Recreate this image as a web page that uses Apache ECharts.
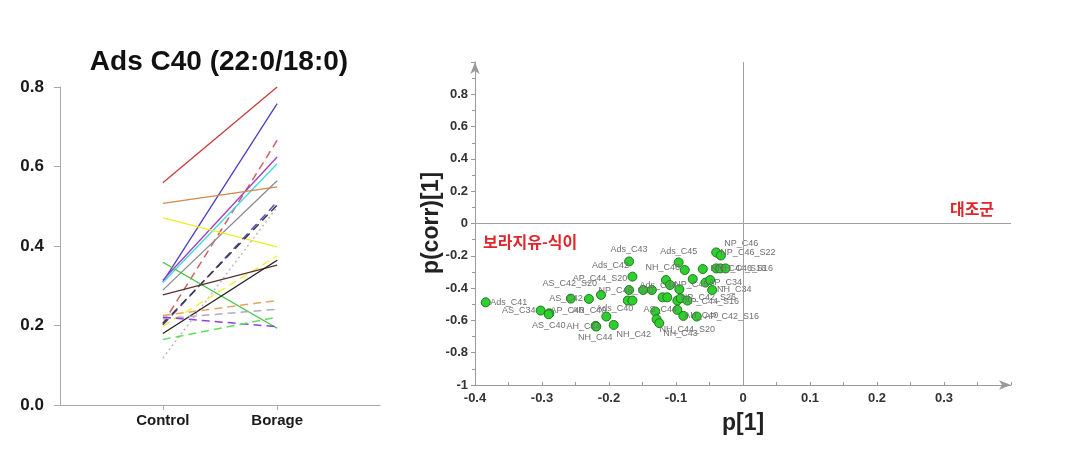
<!DOCTYPE html>
<html>
<head>
<meta charset="utf-8">
<script src="https://cdn.jsdelivr.net/npm/echarts@6/dist/echarts.min.js"></script>
<style>
html,body{margin:0;padding:0;background:#fff;}
#c{width:1069px;height:464px;}
</style>
</head>
<body>
<div id="c"></div>
<script>
// ---------- Left panel data ----------
const groups = ['Control', 'Borage'];
const controlVals = [0.559, 0.310, 0.205, 0.314, 0.308, 0.289, 0.507, 0.471, 0.201, 0.205, 0.118, 0.359, 0.198, 0.277, 0.180, 0.225, 0.217, 0.221, 0.165];
const borageVals  = [0.800, 0.758, 0.666, 0.624, 0.607, 0.564, 0.549, 0.398, 0.511, 0.503, 0.498, 0.193, 0.375, 0.352, 0.364, 0.263, 0.241, 0.197, 0.221];
const lineColors = ['#c83c3c', '#4a3fc4', '#d06262', '#a23ad0', '#3fdcdc', '#8a8a8a', '#d08a4a', '#eeee22', '#5a50c8', '#3a3a3a', '#c8b4c0', '#3fc43f', '#f2f040', '#5a3232', '#1e1e1e', '#e8a45c', '#b4a8c8', '#8a44e0', '#5ee05e'];
const lineTypes  = ['solid', 'solid', 'dashed', 'solid', 'solid', 'solid', 'solid', 'solid', 'dashed', 'dashed', 'dotted', 'solid', 'dashed', 'solid', 'solid', 'dashed', 'dashed', 'dashed', 'dashed'];

// ---------- Right panel data ----------
const pointNames = ['Ads_C41','AS_C34','AP_C40','AS_C40','AS_C42_S20','AS_C42','AP_C44_S20','AH_C44','NH_C44','AR_C40',
  'NH_C42','Ads_C43','Ads_C42','Ads_C40','AH_C42','NP_C46_S20','AP_C46','AP_C45','AS_C44','NH_C43',
  'NH_C44_S20','AH_C46','AP_C42','NP_C44','Ads_C44','Ads_C45','NP_C45','NP_C44_S20','AP_C44_S16','NP_C43',
  'AH_C40','NH_C46','NP_C42','NH_C45','AP_C36','AP_C34','NH_C34','AP_C42_S16','NP_C42_S26','NP_C46',
  'NP_C46_S22','NH_C44_S16','NH_C46_S16','NP_C44_S16'];
const p1Vals = [-0.384,-0.302,-0.289,-0.290,-0.257,-0.230,-0.212,-0.220,-0.219,-0.204,
  -0.193,-0.170,-0.165,-0.172,-0.165,-0.170,-0.149,-0.136,-0.131,-0.129,
  -0.125,-0.120,-0.113,-0.115,-0.109,-0.096,-0.095,-0.098,-0.093,-0.098,
  -0.089,-0.087,-0.075,-0.060,-0.056,-0.049,-0.046,-0.069,-0.083,-0.040,
  -0.033,-0.040,-0.034,-0.026];
const pcorrVals = [-0.488,-0.539,-0.556,-0.562,-0.465,-0.467,-0.442,-0.634,-0.638,-0.576,
  -0.628,-0.235,-0.329,-0.477,-0.477,-0.412,-0.412,-0.412,-0.545,-0.593,
  -0.617,-0.457,-0.457,-0.350,-0.381,-0.241,-0.407,-0.477,-0.463,-0.535,
  -0.572,-0.288,-0.344,-0.282,-0.366,-0.350,-0.412,-0.576,-0.477,-0.179,
  -0.198,-0.278,-0.278,-0.278];

// label placement (pixel offsets of label centre from the point) - styling only
const labelPlace = {
  'Ads_C41':[23,0], 'AS_C34':[-22,0], 'AP_C40':[18,-3], 'AS_C40':[0,11], 'AS_C42_S20':[-1,-15],
  'AS_C42':[-23,0], 'AP_C44_S20':[-1,-16], 'AH_C44':[-12,1], 'NH_C44':[-1,11], 'AR_C40':[-17,-6],
  'NH_C42':[20,10], 'Ads_C43':[0,-12], 'Ads_C42':[-22,-11], 'Ads_C40':[-13,8], 'NP_C46_S20':[-3,0],
  'AS_C44':[5,-2], 'NH_C43':[24,14], 'NH_C44_S20':[28,6], 'Ads_C44':[-12,0], 'NH_C46':[-22,-2],
  'Ads_C45':[0,-11], 'NP_C45':[12,-5], 'NP_C42_S26':[21,-3], 'AP_C44_S16':[31,3], 'AH_C40':[18,0],
  'AP_C42_S16':[35,0], 'AP_C34':[15,2], 'NH_C34':[22,-1], 'NP_C46':[25,-9], 'NP_C46_S22':[27,-3],
  'NH_C44_S16':[22,0], 'NH_C46_S16':[25,0]
};

const latin = 'Liberation Sans, Arial, sans-serif';
const kr = 'Noto Sans CJK KR, sans-serif';

const lineSeries = controlVals.map((c, i) => ({
  type: 'line',
  xAxisIndex: 0, yAxisIndex: 0,
  data: [[1, c], [2, borageVals[i]]],
  symbol: 'none',
  silent: true,
  lineStyle: {
    color: lineColors[i],
    width: lineTypes[i] === 'solid' ? 1.3 : 1.5,
    type: lineTypes[i] === 'dashed' ? [8, 5] : (lineTypes[i] === 'dotted' ? [2, 3] : 'solid')
  },
  z: 2
}));

const scatterData = pointNames.map((n, i) => {
  const lp = labelPlace[n];
  return {
    name: n,
    value: [p1Vals[i], pcorrVals[i]],
    label: lp ? { show: true, position: 'inside', offset: lp, formatter: n } : { show: false }
  };
});

const chart = echarts.init(document.getElementById('c'), null, {renderer: 'canvas'});
chart.setOption({
  animation: false,
  backgroundColor: '#ffffff',
  grid: [
    { left: 60, top: 87, width: 320, height: 318 },
    { left: 475, top: 62, width: 536, height: 323 }
  ],
  xAxis: [
    {
      gridIndex: 0, type: 'value', min: 0.1, max: 2.9,
      splitLine: { show: false },
      axisLine: { show: true, onZero: false, lineStyle: { color: '#a8a8a8', width: 1 } },
      axisTick: { show: true, customValues: [1, 2], length: 5, lineStyle: { color: '#a8a8a8' } },
      axisLabel: {
        customValues: [1, 2],
        formatter: v => groups[Math.round(v) - 1],
        fontFamily: latin, fontWeight: 'bold', fontSize: 15, color: '#1a1a1a', margin: 8
      }
    },
    {
      gridIndex: 1, type: 'value', min: -0.4, max: 0.4, interval: 0.1,
      splitLine: { show: false },
      axisLine: { show: true, onZero: false, symbol: ['none', 'arrow'], symbolSize: [7, 12], lineStyle: { color: '#9a9a9a', width: 1 } },
      axisTick: { show: true, inside: true, length: 3, lineStyle: { color: '#9a9a9a' } },
      minorTick: { show: true, splitNumber: 2, length: 3, lineStyle: { color: '#9a9a9a' } },
      axisLabel: { showMaxLabel: false, fontFamily: latin, fontWeight: 'bold', fontSize: 13, color: '#333', margin: 7 }
    }
  ],
  yAxis: [
    {
      gridIndex: 0, type: 'value', min: 0, max: 0.8, interval: 0.2,
      splitLine: { show: false },
      axisLine: { show: true, onZero: false, lineStyle: { color: '#a8a8a8', width: 1 } },
      axisTick: { show: true, length: 6, lineStyle: { color: '#a8a8a8' } },
      axisLabel: { formatter: v => v.toFixed(1), fontFamily: latin, fontWeight: 'bold', fontSize: 17, color: '#1a1a1a', margin: 16 }
    },
    {
      gridIndex: 1, type: 'value', min: -1, max: 1, interval: 0.2,
      splitLine: { show: false },
      axisLine: { show: true, onZero: false, symbol: ['none', 'arrow'], symbolSize: [7, 12], lineStyle: { color: '#9a9a9a', width: 1 } },
      axisTick: { show: true, length: 4, lineStyle: { color: '#9a9a9a' } },
      minorTick: { show: true, splitNumber: 2, length: 3, lineStyle: { color: '#9a9a9a' } },
      axisLabel: { showMaxLabel: false, fontFamily: latin, fontWeight: 'bold', fontSize: 13, color: '#333', margin: 7 }
    }
  ],
  series: lineSeries.concat([
    {
      type: 'scatter',
      xAxisIndex: 1, yAxisIndex: 1,
      data: scatterData,
      symbol: 'circle',
      symbolSize: 9,
      itemStyle: { color: '#2fcf2f', borderColor: '#1d7a1d', borderWidth: 1, opacity: 1 },
      label: { fontFamily: latin, fontSize: 9, color: '#707070' },
      markLine: {
        silent: true,
        symbol: 'none',
        label: { show: false },
        lineStyle: { color: '#a0a0a0', type: 'solid', width: 1 },
        data: [{ xAxis: 0 }, { yAxis: 0 }]
      },
      z: 3
    }
  ]),
  graphic: [
    { type: 'text', x: 219, y: 62, style: { text: 'Ads C40 (22:0/18:0)', fontFamily: latin, fontWeight: 'bold', fontSize: 28, fill: '#111', align: 'center', verticalAlign: 'middle' } },
    { type: 'text', x: 432, y: 223, rotation: Math.PI / 2, style: { text: 'p(corr)[1]', fontFamily: latin, fontWeight: 'bold', fontSize: 23, fill: '#222', align: 'center', verticalAlign: 'middle' } },
    { type: 'text', x: 743, y: 424, style: { text: 'p[1]', fontFamily: latin, fontWeight: 'bold', fontSize: 23, fill: '#222', align: 'center', verticalAlign: 'middle' } },
    { type: 'text', x: 972, y: 209, style: { text: '대조군', fontFamily: kr, fontWeight: 'bold', fontSize: 16, fill: '#e0252b', align: 'center', verticalAlign: 'middle' } },
    { type: 'text', x: 483, y: 242, style: { text: '보라지유-식이', fontFamily: kr, fontWeight: 'bold', fontSize: 16, fill: '#e0252b', align: 'left', verticalAlign: 'middle' } }
  ]
});
</script>
</body>
</html>
